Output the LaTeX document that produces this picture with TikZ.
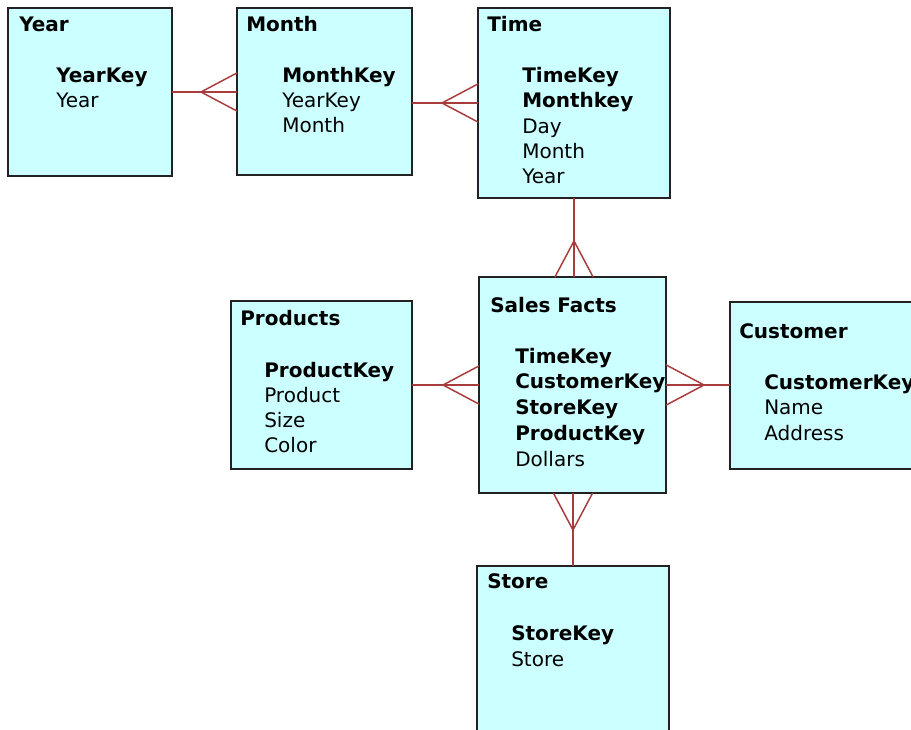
\documentclass[tikz,border=0pt]{standalone}
\usepackage{fontspec}
\setmainfont{DejaVu Sans}
\usetikzlibrary{calc}
\definecolor{boxfill}{HTML}{CCFFFF}
\definecolor{relcol}{HTML}{A83C3C}
\definecolor{boxline}{HTML}{222222}
\newcommand{\crowfoot}[3]{% #1 = edge point, #2,#3 = offset to tip
  \draw[relline] ($#1+(#2,#3)$) -- ($#1+(#3*0.53,#2*0.53)$)
                 ($#1+(#2,#3)$) -- ($#1+(-#3*0.53,-#2*0.53)$);}
\begin{document}
\begin{tikzpicture}[x=0.75pt,y=-0.75pt,
  entity/.style={draw=boxline,line width=1.5pt,fill=boxfill,anchor=north west,inner sep=0pt,outer sep=0pt},
  field/.style={anchor=base west,inner sep=0pt,font=\fontsize{15}{18}\selectfont},
  keyfield/.style={field,font=\fontsize{15}{18}\selectfont\bfseries},
  relline/.style={draw=relcol,line width=1.1pt}]
\useasboundingbox (0,0) rectangle (911,730);
\clip (0,0) rectangle (911,730);
\fill[white] (0,0) rectangle (911,730);

% entity boxes
\node[entity,minimum width=164*0.75pt,minimum height=168*0.75pt] (year) at (8,8) {};
\node[entity,minimum width=175*0.75pt,minimum height=167*0.75pt] (month) at (237,8) {};
\node[entity,minimum width=192*0.75pt,minimum height=190*0.75pt] (time) at (478,8) {};
\node[entity,minimum width=187*0.75pt,minimum height=216*0.75pt] (sales) at (479,277) {};
\node[entity,minimum width=181*0.75pt,minimum height=168*0.75pt] (products) at (231,301) {};
\node[entity,minimum width=200*0.75pt,minimum height=167*0.75pt] (customer) at (730,302) {};
\node[entity,minimum width=192*0.75pt,minimum height=200*0.75pt] (store) at (477,566) {};

% Year
\node[keyfield] (yearT) at (19,32) {Year};
\node[keyfield] (yearK) at (56,83) {YearKey};
\node[field] (yearF1) at (56,108) {Year};
% Month
\node[keyfield] (monthT) at (246,32) {Month};
\node[keyfield] (monthK) at (282,83) {MonthKey};
\node[field] (monthF1) at (282,108) {YearKey};
\node[field] (monthF2) at (282,133) {Month};
% Time
\node[keyfield] (timeT) at (487,32) {Time};
\node[keyfield] (timeK1) at (522,83) {TimeKey};
\node[keyfield] (timeK2) at (522,108) {Monthkey};
\node[field] (timeF1) at (522,134) {Day};
\node[field] (timeF2) at (522,159) {Month};
\node[field] (timeF3) at (522,184) {Year};
% Sales Facts
\node[keyfield] (salesT) at (490,313) {Sales Facts};
\node[keyfield] (salesK1) at (515,364) {TimeKey};
\node[keyfield] (salesK2) at (515,389) {CustomerKey};
\node[keyfield] (salesK3) at (515,415) {StoreKey};
\node[keyfield] (salesK4) at (515,441) {ProductKey};
\node[field] (salesF1) at (515,467) {Dollars};
% Products
\node[keyfield] (prodT) at (240,326) {Products};
\node[keyfield] (prodK) at (264,378) {ProductKey};
\node[field] (prodF1) at (264,403) {Product};
\node[field] (prodF2) at (264,428) {Size};
\node[field] (prodF3) at (264,453) {Color};
% Customer
\node[keyfield] (custT) at (739,339) {Customer};
\node[keyfield] (custK) at (764,390) {CustomerKey};
\node[field] (custF1) at (764,415) {Name};
\node[field] (custF2) at (764,441) {Address};
% Store
\node[keyfield] (storeT) at (487,589) {Store};
\node[keyfield] (storeK) at (511,641) {StoreKey};
\node[field] (storeF1) at (511,667) {Store};

% relationships
\coordinate (ym) at (year.east -| month.west);
\draw[relline] (year.east) -- (ym);
\crowfoot{(ym)}{-36}{0}

\coordinate (mt) at (month.east |- time.west);
\draw[relline] (mt) -- (time.west);
\crowfoot{(time.west)}{-36}{0}

\coordinate (ts) at (time.south |- sales.north);
\draw[relline] (time.south) -- (ts);
\crowfoot{(ts)}{0}{-36}

\coordinate (ps) at (products.east -| sales.west);
\draw[relline] (products.east) -- (ps);
\crowfoot{(ps)}{-36}{0}

\coordinate (sc) at (sales.east -| customer.west);
\draw[relline] (sales.east) -- (sc);
\crowfoot{(sales.east)}{38}{0}

\coordinate (ss) at (store.north |- sales.south);
\draw[relline] (ss) -- (store.north);
\crowfoot{(ss)}{0}{37}
\end{tikzpicture}
\end{document}
